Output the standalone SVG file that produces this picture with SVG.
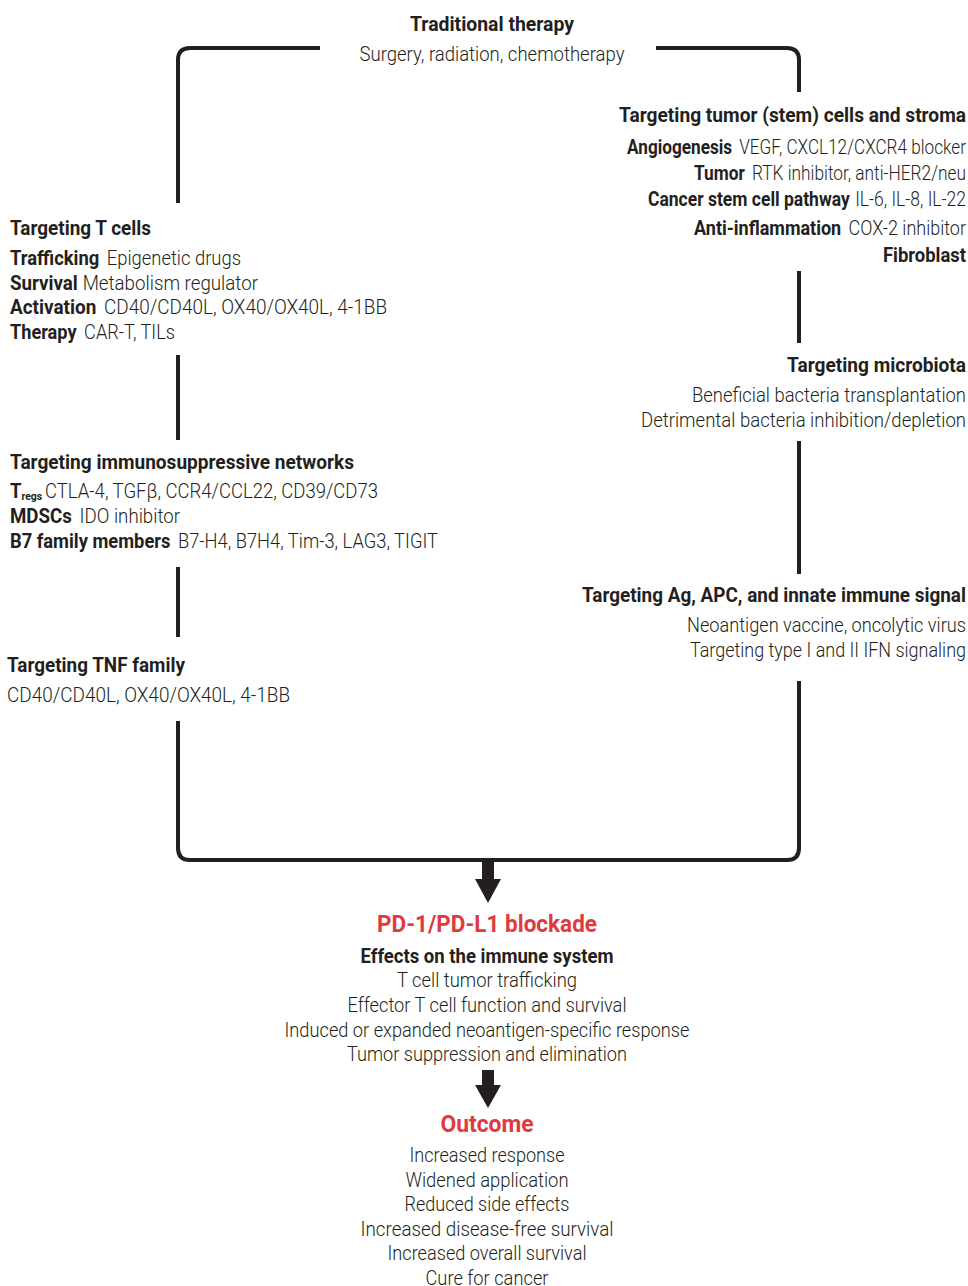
<svg xmlns="http://www.w3.org/2000/svg" width="968" height="1286" viewBox="0 0 968 1286">
<style>
text{font-family:Roboto,"Liberation Sans",sans-serif;font-size:19.5px;fill:#231f20;font-weight:300}
.b{font-weight:700}
.h{font-weight:700;font-size:20px}
.r{fill:#e2393f;font-weight:700;font-size:23px}
.e{text-anchor:end}
.m{text-anchor:middle}
.ln{fill:none;stroke:#231f20;stroke-width:4}
</style>
<rect width="968" height="1286" fill="#fff"/>
<g id="connectors">
<path class="ln" d="M178,203 V60 Q178,48 190,48 H320"/>
<path class="ln" d="M656,48 H787 Q799,48 799,60 V92"/>
<path class="ln" d="M799,271 V343"/>
<path class="ln" d="M799,441 V574"/>
<path class="ln" d="M799,681 V848 Q799,860 787,860 H190 Q178,860 178,848 V721"/>
<path class="ln" d="M178,355 V440"/>
<path class="ln" d="M178,567 V637"/>
<path fill="#231f20" d="M482,858 H494 V879 H501 L488,903 L475,879 H482 Z"/>
<path fill="#231f20" d="M482,1070 H494 V1085 H501 L488,1108 L475,1085 H482 Z"/>
</g>
<g id="traditional">
<text class="h m" x="492" y="31" textLength="164" lengthAdjust="spacingAndGlyphs">Traditional therapy</text>
<text class="m" x="492" y="61" textLength="265" lengthAdjust="spacingAndGlyphs">Surgery, radiation, chemotherapy</text>
</g>
<g id="tumor">
<text class="h e" x="966" y="122" textLength="347" lengthAdjust="spacingAndGlyphs">Targeting tumor (stem) cells and stroma</text>
<text class="e" x="966" y="154" textLength="339" lengthAdjust="spacingAndGlyphs"><tspan class="b">Angiogenesis</tspan><tspan dx="8">VEGF, CXCL12/CXCR4 blocker</tspan></text>
<text class="e" x="966" y="180" textLength="272" lengthAdjust="spacingAndGlyphs"><tspan class="b">Tumor</tspan><tspan dx="8">RTK inhibitor, anti-HER2/neu</tspan></text>
<text class="e" x="966" y="206" textLength="318" lengthAdjust="spacingAndGlyphs"><tspan class="b">Cancer stem cell pathway</tspan><tspan dx="6">IL-6, IL-8, IL-22</tspan></text>
<text class="e" x="966" y="235" textLength="272" lengthAdjust="spacingAndGlyphs"><tspan class="b">Anti-inflammation</tspan><tspan dx="8">COX-2 inhibitor</tspan></text>
<text class="e b" x="966" y="262" textLength="83" lengthAdjust="spacingAndGlyphs">Fibroblast</text>
</g>
<g id="tcells">
<text class="h" x="10" y="235" textLength="141" lengthAdjust="spacingAndGlyphs">Targeting T cells</text>
<text x="10" y="265" textLength="231" lengthAdjust="spacingAndGlyphs"><tspan class="b">Trafficking</tspan><tspan dx="8">Epigenetic drugs</tspan></text>
<text x="10" y="290" textLength="248" lengthAdjust="spacingAndGlyphs"><tspan class="b">Survival</tspan><tspan dx="5">Metabolism regulator</tspan></text>
<text x="10" y="314" textLength="377" lengthAdjust="spacingAndGlyphs"><tspan class="b">Activation</tspan><tspan dx="8">CD40/CD40L, OX40/OX40L, 4-1BB</tspan></text>
<text x="10" y="339" textLength="165" lengthAdjust="spacingAndGlyphs"><tspan class="b">Therapy</tspan><tspan dx="8">CAR-T, TILs</tspan></text>
</g>
<g id="immunosuppressive">
<text class="h" x="10" y="469" textLength="344" lengthAdjust="spacingAndGlyphs">Targeting immunosuppressive networks</text>
<text x="10" y="498" textLength="368" lengthAdjust="spacingAndGlyphs"><tspan class="b">T</tspan><tspan class="b" font-size="11" dy="2">regs</tspan><tspan dy="-2" dx="3">CTLA-4, TGFβ, CCR4/CCL22, CD39/CD73</tspan></text>
<text x="10" y="523" textLength="170" lengthAdjust="spacingAndGlyphs"><tspan class="b">MDSCs</tspan><tspan dx="8">IDO inhibitor</tspan></text>
<text x="10" y="548" textLength="428" lengthAdjust="spacingAndGlyphs"><tspan class="b">B7 family members</tspan><tspan dx="8">B7-H4, B7H4, Tim-3, LAG3, TIGIT</tspan></text>
</g>
<g id="tnf">
<text class="h" x="7" y="672" textLength="178" lengthAdjust="spacingAndGlyphs">Targeting TNF family</text>
<text x="7" y="702" textLength="283" lengthAdjust="spacingAndGlyphs">CD40/CD40L, OX40/OX40L, 4-1BB</text>
</g>
<g id="microbiota">
<text class="h e" x="966" y="372" textLength="179" lengthAdjust="spacingAndGlyphs">Targeting microbiota</text>
<text class="e" x="966" y="402" textLength="274" lengthAdjust="spacingAndGlyphs">Beneficial bacteria transplantation</text>
<text class="e" x="966" y="427" textLength="325" lengthAdjust="spacingAndGlyphs">Detrimental bacteria inhibition/depletion</text>
</g>
<g id="antigen">
<text class="h e" x="966" y="602" textLength="384" lengthAdjust="spacingAndGlyphs">Targeting Ag, APC, and innate immune signal</text>
<text class="e" x="966" y="632" textLength="279" lengthAdjust="spacingAndGlyphs">Neoantigen vaccine, oncolytic virus</text>
<text class="e" x="966" y="657" textLength="276" lengthAdjust="spacingAndGlyphs">Targeting type I and II IFN signaling</text>
</g>
<g id="blockade">
<text class="r m" x="487" y="932" textLength="220" lengthAdjust="spacingAndGlyphs">PD-1/PD-L1 blockade</text>
<text class="h m" x="487" y="963" textLength="253" lengthAdjust="spacingAndGlyphs">Effects on the immune system</text>
<text class="m" x="487" y="987" textLength="180" lengthAdjust="spacingAndGlyphs">T cell tumor trafficking</text>
<text class="m" x="487" y="1012" textLength="279" lengthAdjust="spacingAndGlyphs">Effector T cell function and survival</text>
<text class="m" x="487" y="1037" textLength="405" lengthAdjust="spacingAndGlyphs">Induced or expanded neoantigen-specific response</text>
<text class="m" x="487" y="1061" textLength="280" lengthAdjust="spacingAndGlyphs">Tumor suppression and elimination</text>
</g>
<g id="outcome">
<text class="r m" x="487" y="1132" textLength="93" lengthAdjust="spacingAndGlyphs">Outcome</text>
<text class="m" x="487" y="1162" textLength="155" lengthAdjust="spacingAndGlyphs">Increased response</text>
<text class="m" x="487" y="1187" textLength="163" lengthAdjust="spacingAndGlyphs">Widened application</text>
<text class="m" x="487" y="1211" textLength="165" lengthAdjust="spacingAndGlyphs">Reduced side effects</text>
<text class="m" x="487" y="1236" textLength="253" lengthAdjust="spacingAndGlyphs">Increased disease-free survival</text>
<text class="m" x="487" y="1260" textLength="199" lengthAdjust="spacingAndGlyphs">Increased overall survival</text>
<text class="m" x="487" y="1285" textLength="123" lengthAdjust="spacingAndGlyphs">Cure for cancer</text>
</g>
</svg>
